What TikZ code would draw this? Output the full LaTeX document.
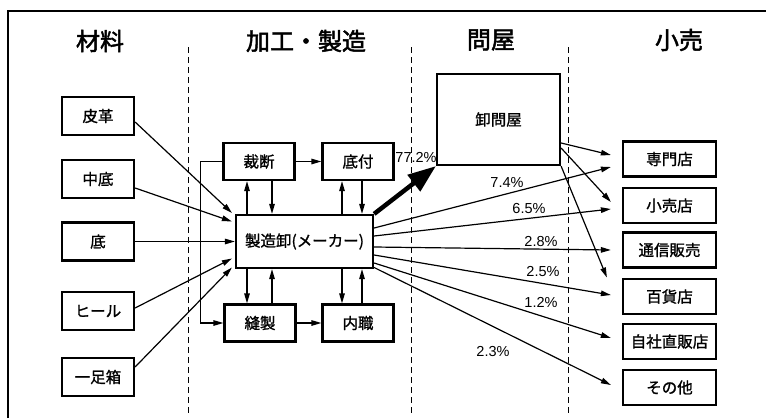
\documentclass[tikz,border=0pt]{standalone}
\usepackage{fontspec}
\setmainfont{Liberation Sans}
\newfontfamily\jp{Noto Sans CJK JP}[RawFeature={embolden=1.2}]
\newfontfamily\jph{Noto Sans CJK JP}[RawFeature={embolden=2}]
\usetikzlibrary{arrows.meta,calc}
\begin{document}
\begin{tikzpicture}[x=1pt,y=-1pt,
  box/.style={draw,line width=2.2pt,inner sep=0pt,font=\jp\fontsize{15.5}{15.5}\selectfont},
  lbox/.style={box,minimum width=72pt,minimum height=38pt},
  mbox/.style={box,minimum width=71pt,minimum height=37pt},
  rbox/.style={box,minimum width=93pt,minimum height=35pt},
  hdr/.style={font=\jph\fontsize{24}{24}\selectfont},
  pct/.style={font=\fontsize{14.5}{14.5}\selectfont,inner sep=0pt},
  arr/.style={line width=1.2pt,-{Triangle[length=10pt,width=5.5pt]}},
  sep/.style={line width=0.8pt,dash pattern=on 6pt off 4pt}]
\useasboundingbox (0,0) rectangle (766,418);
% frame
\draw[line width=1.8pt] (8,418) -- (8,11) -- (766,11);
% separators
\draw[sep] (188,47) -- (188,414);
\draw[sep] (411,47) -- (411,414);
\draw[sep] (568,47) -- (568,414);
% headers
\node[hdr] (h1) at (100,41) {材料};
\node[hdr] (h2) at (306,41) {加工・製造};
\node[hdr] (h3) at (491,40) {問屋};
\node[hdr] (h4) at (679,40) {小売};
% materials
\node[lbox] (leather) at (98,116) {皮革};
\node[lbox] (insole) at (98,179) {中底};
\node[lbox] (sole) at (98,241.5) {底};
\node[lbox] (heel) at (98,311) {ヒール};
\node[lbox] (onebox) at (98,377) {一足箱};
% processing
\node[mbox] (cut) at (259,161.5) {裁断};
\node[mbox] (attach) at (358,161.5) {底付};
\node[box,minimum width=137pt,minimum height=53pt] (mfr) at (304.5,241.5) {製造卸(メーカー)};
\node[mbox] (sew) at (260,323) {縫製};
\node[mbox] (home) at (358,323) {内職};
% wholesale
\node[box,minimum width=123pt,minimum height=91pt] (whole) at (498.5,119.5) {卸問屋};
% retail
\node[rbox] (s1) at (669.5,159) {専門店};
\node[rbox] (s2) at (669.5,205.5) {小売店};
\node[rbox] (s3) at (669.5,250) {通信販売};
\node[rbox] (s4) at (669.5,296.5) {百貨店};
\node[rbox] (s5) at (669.5,341.5) {自社直販店};
\node[rbox] (s6) at (669.5,387.5) {その他};
% helper x positions
\coordinate (xa) at (247,0);
\coordinate (xb) at (272,0);
\coordinate (xc) at (342,0);
\coordinate (xd) at (362,0);
% materials -> maker
\draw[arr] ($(leather.east)+(0,6)$) -- ($(mfr.north west)+(-3,-1)$);
\draw[arr] ($(insole.east)+(0,9)$) -- ($(mfr.west)+(-3,-20)$);
\draw[arr] (sole.east) -- (mfr.west);
\draw[arr] ($(heel.east)+(0,-3)$) -- ($(mfr.west)+(-3,17)$);
\draw[arr] ($(onebox.east)+(0,-10)$) -- ($(mfr.west)+(-3,26)$);
% processing links
\draw[arr] (cut.west) -- ++(-22,0) |- (sew.west);
\draw[arr] (cut.east) -- (attach.west);
\draw[arr] (sew.east) -- (home.west);
\draw[arr] (mfr.north -| xa) -- (cut.south -| xa);
\draw[arr] (cut.south -| xb) -- (mfr.north -| xb);
\draw[arr] (mfr.north -| xc) -- (attach.south -| xc);
\draw[arr] (attach.south -| xd) -- (mfr.north -| xd);
\draw[arr] (mfr.south -| xa) -- (sew.north -| xa);
\draw[arr] (sew.north -| xb) -- (mfr.south -| xb);
\draw[arr] (mfr.south -| xc) -- (home.north -| xc);
\draw[arr] (home.north -| xd) -- (mfr.south -| xd);
% maker -> wholesale (thick)
\draw[line width=4.5pt,-{Triangle[length=28pt,width=20pt]}] (mfr.north east) -- (whole.south west);
% maker -> retail
\draw[arr] ($(mfr.east)+(0,-13.5)$) -- ($(s1.west)+(-11,8)$);
\draw[arr] ($(mfr.east)+(0,-5.5)$) -- ($(s2.west)+(-11,3.5)$);
\draw[arr] ($(mfr.east)+(0,5.5)$) -- ($(s3.west)+(-11,0)$);
\draw[arr] ($(mfr.east)+(0,13.5)$) -- ($(s4.west)+(-11,-1.5)$);
\draw[arr] ($(mfr.east)+(0,21.5)$) -- ($(s5.west)+(-11,-3.5)$);
\draw[arr] ($(mfr.east)+(0,26)$) -- ($(s6.west)+(-11,-2.5)$);
% wholesale -> retail
\draw[arr] ($(whole.east)+(0,23.5)$) -- ($(s1.west)+(-11,-4)$);
\draw[arr] ($(whole.east)+(0,28.5)$) -- ($(s2.west)+(-11,-3.5)$);
\draw[arr] (whole.south east) -- ($(s4.west)+(-15,-19)$);
% percentages
\node[pct] (p1) at (416,157) {77.2\%};
\node[pct] (p2) at (507,183) {7.4\%};
\node[pct] (p3) at (529,209) {6.5\%};
\node[pct] (p4) at (541,242) {2.8\%};
\node[pct] (p5) at (543,272) {2.5\%};
\node[pct] (p6) at (541,302) {1.2\%};
\node[pct] (p7) at (493,352) {2.3\%};
\end{tikzpicture}
\end{document}
